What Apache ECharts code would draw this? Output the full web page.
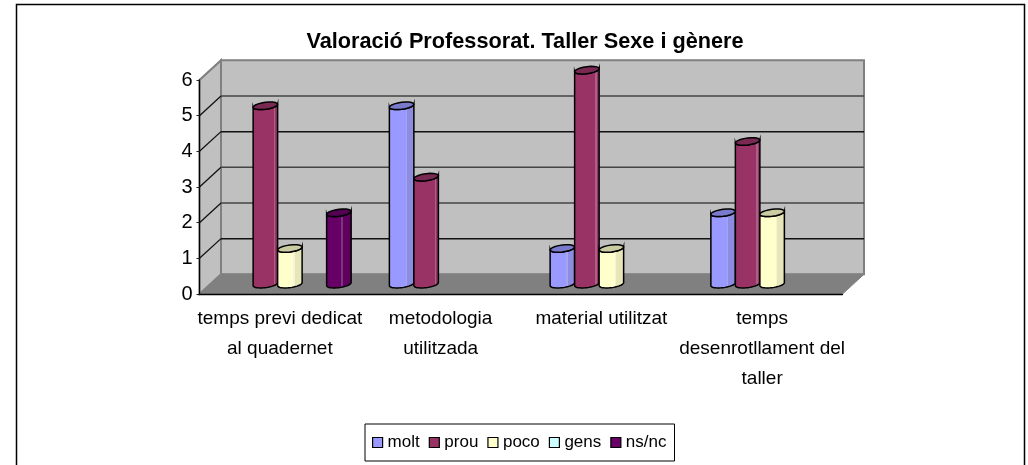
<!DOCTYPE html>
<html>
<head>
<meta charset="utf-8">
<title>Valoració Professorat</title>
<style>
	html, body { margin: 0; padding: 0; background: #fff; }
	#main { width: 1028px; height: 465px; }
</style>
<script src="https://cdn.jsdelivr.net/npm/echarts@6/dist/echarts.min.js"></script>
</head>
<body>
<div id="main"></div>
<script>
var categories = ['temps previ dedicat\nal quadernet', 'metodologia\nutilitzada', 'material utilitzat', 'temps\ndesenrotllament del\ntaller'];
var yTicks = [0, 1, 2, 3, 4, 5, 6];

var molt = [null, 5, 1, 2];
var prou = [5, 3, 6, 4];
var poco = [1, null, 1, 2];
var gens = [null, null, null, null];
var nsnc = [2, null, null, null];

var seriesNames = ['molt', 'prou', 'poco', 'gens', 'ns/nc'];
var seriesValues = [molt, prou, poco, gens, nsnc];
var mainColors = ['#9999ff', '#993366', '#ffffcc', '#ccffff', '#660066'];
var sideColors = ['#8c8ce0', '#963565', '#e6e6b8', '#b8e6e6', '#5f005f'];
var lightColors = ['#a6a6ee', '#ad5f86', '#f4f4d8', '#dcf4f4', '#7d337d'];
var topColors = ['#7a7acc', '#7a2952', '#cccca3', '#a3cccc', '#520052'];
var stripAt = [0.65, 0.83, 0.63, 0.63, 0.6];

var fontName = '"Liberation Sans", Arial, sans-serif';

// oblique depth of the 3D box
var depthX = 21.5;
var depthY = -19.7;
var barWidth = 24.5;
var barShift = 10;

/**
 * points along the tilted ellipse of a column end
 */
var ellipsePoints = function (cx, cy, from, to) {
	var pts = [];
	var halfW = barWidth / 2;
	for (var i = 0; i <= 20; i++) {
		var t = from + (to - from) * i / 20;
		pts.push([cx + halfW * Math.cos(t), cy - 1.5 * Math.cos(t) - 3.5 * Math.sin(t)]);
	}
	return pts;
};

/**
 * back wall, side wall, floor and gridlines
 */
var renderWall = function (params, api) {
	var rect = params.coordSys;
	var v = api.value(0);
	var y = api.coord([0, v])[1];
	var x0 = rect.x;
	var x1 = rect.x + rect.width;
	var children = [];
	var lineColor = v === 6 ? '#808080' : '#111';
	if (v === 0) {
		var yTop = rect.y;
		children.push({
			type: 'polygon',
			shape: { points: [[x0 + depthX, yTop + depthY], [x1 + depthX, yTop + depthY], [x1 + depthX, y + depthY], [x0 + depthX, y + depthY]] },
			style: { fill: '#c0c0c0', stroke: '#808080', lineWidth: 2 }
		});
		children.push({
			type: 'polygon',
			shape: { points: [[x0, y], [x0 + depthX, y + depthY], [x0 + depthX, yTop + depthY], [x0, yTop]] },
			style: { fill: '#c0c0c0', stroke: '#808080', lineWidth: 2 }
		});
		children.push({
			type: 'polygon',
			shape: { points: [[x0, y], [x1, y], [x1 + depthX, y + depthY], [x0 + depthX, y + depthY]] },
			style: { fill: '#808080', stroke: '#808080', lineWidth: 1 }
		});
	} else {
		children.push({
			type: 'line',
			shape: { x1: x0, y1: y, x2: x0 + depthX, y2: y + depthY },
			style: { stroke: lineColor, lineWidth: 1.3 }
		});
		if (v !== 6) {
			children.push({
				type: 'line',
				shape: { x1: x0 + depthX, y1: y + depthY, x2: x1 + depthX, y2: y + depthY },
				style: { stroke: v % 3 === 1 ? '#111' : '#444', lineWidth: 1.5 }
			});
		}
	}
	return { type: 'group', children: children };
};

/**
 * one column drawn as a tilted cylinder
 */
var makeColumnRenderer = function (seriesIndex) {
	return function (params, api) {
		var value = api.value(1);
		if (!value) {
			return null;
		}
		var top = api.coord([api.value(0), value]);
		var base = api.coord([api.value(0), 0]);
		var cx = top[0] + barShift + (seriesIndex - 2) * barWidth;
		var topY = top[1] + depthY / 2;
		var baseY = base[1] + depthY / 2;
		var body = ellipsePoints(cx, baseY, Math.PI, 2 * Math.PI)
			.concat(ellipsePoints(cx, topY, 0, -Math.PI));
		var strip = stripAt[seriesIndex];
		return {
			type: 'group',
			children: [{
				type: 'polygon',
				shape: { points: body },
				style: {
					fill: {
						type: 'linear', x: 0, y: 0, x2: 1, y2: 0,
						colorStops: [
							{ offset: 0, color: mainColors[seriesIndex] },
							{ offset: strip, color: mainColors[seriesIndex] },
							{ offset: strip, color: lightColors[seriesIndex] },
							{ offset: strip + 0.05, color: lightColors[seriesIndex] },
							{ offset: strip + 0.05, color: sideColors[seriesIndex] },
							{ offset: 1, color: sideColors[seriesIndex] }
						]
					},
					stroke: '#000',
					lineWidth: 1.5
				}
			}, {
				type: 'polygon',
				shape: { points: ellipsePoints(cx, topY, 0, 2 * Math.PI) },
				style: { fill: topColors[seriesIndex], stroke: '#000', lineWidth: 1.5 }
			}]
		};
	};
};

var series = [{
	type: 'custom',
	silent: true,
	renderItem: renderWall,
	encode: { y: 0 },
	data: yTicks.map(function (v) { return [v]; }),
	z: 1
}];
seriesNames.forEach(function (name, i) {
	series.push({
		name: name,
		type: 'custom',
		renderItem: makeColumnRenderer(i),
		encode: { x: 0, y: 1 },
		itemStyle: { color: mainColors[i] },
		data: seriesValues[i].map(function (v, c) { return [c, v]; }),
		z: 2 + i
	});
});

var chart = echarts.init(document.getElementById('main'));
chart.setOption({
	animation: false,
	backgroundColor: '#fff',
	textStyle: { fontFamily: fontName },
	title: {
		text: 'Valoració Professorat. Taller Sexe i gènere',
		left: 520,
		top: 26,
		textAlign: 'center',
		textStyle: { fontFamily: fontName, fontSize: 21.7, fontWeight: 'bold', color: '#000' }
	},
	legend: {
		data: seriesNames,
		left: 365,
		top: 424,
		icon: 'rect',
		itemWidth: 10,
		itemHeight: 10,
		itemGap: 9,
		padding: [10, 8, 10, 7],
		borderColor: '#000',
		borderWidth: 1,
		selectedMode: false,
		itemStyle: { borderColor: '#000', borderWidth: 1.2 },
		textStyle: { fontFamily: fontName, fontSize: 17, color: '#000' }
	},
	grid: { left: 199.5, top: 80, width: 643, height: 214 },
	xAxis: {
		type: 'category',
		data: categories,
		z: 10,
		axisLine: { lineStyle: { color: '#000', width: 1.3 } },
		axisTick: { length: 5, lineStyle: { color: '#222', width: 1 } },
		axisLabel: { interval: 0, margin: 10, lineHeight: 30, fontFamily: fontName, fontSize: 19, color: '#000' }
	},
	yAxis: {
		type: 'value',
		min: 0,
		max: 6,
		interval: 1,
		z: 10,
		splitLine: { show: false },
		axisLine: { show: true, lineStyle: { color: '#000', width: 1.3 } },
		axisTick: { show: true, length: 3, lineStyle: { color: '#222', width: 1 } },
		axisLabel: { margin: 7, fontFamily: fontName, fontSize: 20, color: '#000' }
	},
	graphic: [{
		type: 'rect',
		silent: true,
		shape: { x: 16.5, y: 4.5, width: 1008, height: 520 },
		style: { fill: 'none', stroke: '#000', lineWidth: 1.5 }
	}],
	series: series
});
</script>
</body>
</html>
